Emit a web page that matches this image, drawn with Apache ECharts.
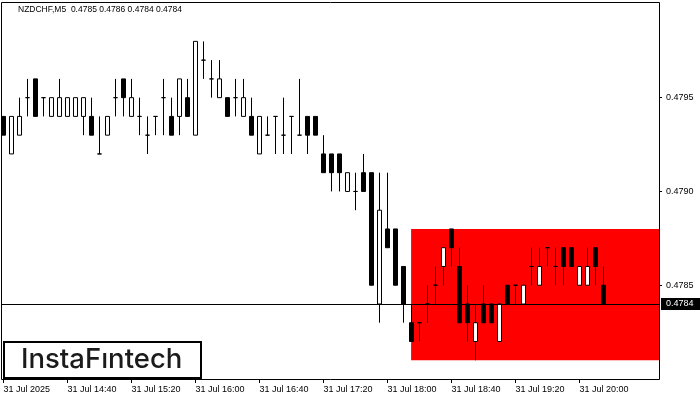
<!DOCTYPE html>
<html><head><meta charset="utf-8">
<script src="https://cdn.jsdelivr.net/npm/echarts@6/dist/echarts.min.js"></script>
<style>html,body{margin:0;padding:0;background:#fff}#c{width:700px;height:400px}</style>
</head><body><div id="c"></div>
<script>
const symbolTitle = 'NZDCHF,M5';
const lastOHLC = ['0.4785', '0.4786', '0.4784', '0.4784'];
const opens = [
  0.4794,0.4792,0.4793,0.4795,0.4796,0.4795,0.4794,0.4794,0.4794,0.4794,
  0.4794,0.4794,0.4792,0.4793,0.4795,0.4796,0.4794,0.4794,0.4793,0.4794,
  0.4795,0.4794,0.4794,0.4795,0.4793,0.4797,0.4796,0.4795,0.4795,0.4795,
  0.4794,0.4794,0.4792,0.4793,0.4794,0.4793,0.4794,0.4793,0.4794,0.4794,
  0.4792,0.4792,0.4792,0.4790,0.4790,0.4791,0.4791,0.4784,0.4788,0.4788,
  0.4786,0.4783,0.4783,0.4784,0.4785,0.4786,0.4788,0.4786,0.4784,0.4782,
  0.4784,0.4784,0.4782,0.4785,0.4785,0.4784,0.4786,0.4785,0.4787,0.4786,
  0.4787,0.4787,0.4785,0.4785,0.4787,0.4785
];
const closes = [
  0.4793,0.4794,0.4794,0.4795,0.4794,0.4795,0.4795,0.4795,0.4795,0.4795,
  0.4795,0.4793,0.4792,0.4794,0.4795,0.4795,0.4795,0.4794,0.4793,0.4794,
  0.4795,0.4793,0.4796,0.4794,0.4798,0.4797,0.4796,0.4796,0.4794,0.4795,
  0.4795,0.4793,0.4794,0.4793,0.4794,0.4793,0.4794,0.4793,0.4793,0.4793,
  0.4791,0.4791,0.4791,0.4791,0.4790,0.4790,0.4785,0.4789,0.4787,0.4785,
  0.4784,0.4782,0.4783,0.4784,0.4785,0.4787,0.4787,0.4783,0.4783,0.4783,
  0.4783,0.4783,0.4784,0.4784,0.4785,0.4785,0.4786,0.4786,0.4787,0.4786,
  0.4786,0.4786,0.4786,0.4786,0.4786,0.4784
];
const lows = [
  0.4793,0.4792,0.4793,0.4794,0.4794,0.4794,0.4794,0.4794,0.4794,0.4794,
  0.4793,0.4793,0.4792,0.4793,0.4794,0.4794,0.4794,0.4793,0.4792,0.4793,
  0.4793,0.4793,0.4793,0.4794,0.4793,0.4796,0.4795,0.4795,0.4794,0.4794,
  0.4794,0.4793,0.4792,0.4793,0.4792,0.4792,0.4792,0.4793,0.4792,0.4793,
  0.4791,0.4790,0.4790,0.4790,0.4789,0.4790,0.4785,0.4783,0.4787,0.4785,
  0.4783,0.4782,0.4782,0.4783,0.4784,0.4785,0.4786,0.4783,0.4782,0.4781,
  0.4783,0.4783,0.4782,0.4784,0.4784,0.4784,0.4785,0.4785,0.4786,0.4785,
  0.4785,0.4786,0.4785,0.4785,0.4785,0.4784
];
const highs = [
  0.4794,0.4794,0.4795,0.4796,0.4796,0.4795,0.4795,0.4796,0.4795,0.4795,
  0.4795,0.4795,0.4794,0.4794,0.4796,0.4796,0.4796,0.4795,0.4794,0.4794,
  0.4796,0.4795,0.4796,0.4796,0.4798,0.4798,0.4797,0.4797,0.4795,0.4796,
  0.4796,0.4795,0.4794,0.4794,0.4794,0.4795,0.4794,0.4796,0.4794,0.4794,
  0.4793,0.4792,0.4792,0.4791,0.4791,0.4792,0.4791,0.4791,0.4791,0.4788,
  0.4786,0.4784,0.4783,0.4785,0.4786,0.4787,0.4788,0.4787,0.4785,0.4784,
  0.4785,0.4784,0.4784,0.4785,0.4785,0.4785,0.4787,0.4787,0.4787,0.4787,
  0.4787,0.4787,0.4786,0.4787,0.4787,0.4786
];
const tickIndex = [0, 8, 16, 24, 32, 40, 48, 56, 64, 72];
const tickLabels = ['31 Jul 2025', '31 Jul 14:40', '31 Jul 15:20', '31 Jul 16:00', '31 Jul 16:40',
  '31 Jul 17:20', '31 Jul 18:00', '31 Jul 18:40', '31 Jul 19:20', '31 Jul 20:00'];
const priceTicks = [0.4785, 0.4790, 0.4795];
const currentPrice = 0.4784;
const zoneStart = 50.95;
const zoneHigh = 0.4788;
const zoneLow = 0.4781;

const xMin = -0.3125, xMax = 81.9375;
const FONT = 'Liberation Sans';

const candleData = opens.map((o, i) => [i, o, closes[i], lows[i], highs[i]]);

const chart = echarts.init(document.getElementById('c'), null, {renderer: 'canvas'});
chart.setOption({
  animation: false,
  backgroundColor: '#fff',
  title: {
    text: symbolTitle + '  ' + lastOHLC.join(' '),
    left: 18, top: 5, padding: 0,
    textStyle: {fontSize: 8.5, fontWeight: 'normal', fontFamily: FONT, color: '#000'}
  },
  grid: {left: 1, top: 2, right: 41, bottom: 21, outerBoundsMode: 'none', containLabel: false},
  xAxis: {
    type: 'value', min: xMin, max: xMax,
    axisLine: {show: false, onZero: false},
    splitLine: {show: false},
    axisTick: {show: true, customValues: tickIndex, length: 4, lineStyle: {color: '#000', width: 1}},
    axisLabel: {
      customValues: tickIndex, align: 'left', margin: 6,
      fontSize: 9, fontFamily: FONT, color: '#000',
      formatter: v => tickLabels[tickIndex.indexOf(Math.round(v))] || ''
    }
  },
  yAxis: {
    type: 'value', position: 'right', min: 0.4780, max: 0.48001, scale: true,
    axisLine: {show: false, onZero: false},
    splitLine: {show: false},
    axisTick: {show: true, customValues: priceTicks, length: 3, lineStyle: {color: '#000', width: 1}},
    axisLabel: {
      customValues: priceTicks, margin: 7,
      fontSize: 9, fontFamily: FONT, color: '#000',
      formatter: v => v.toFixed(4)
    }
  },
  series: [{
    type: 'candlestick',
    data: candleData,
    barWidth: 4,
    silent: true,
    itemStyle: {
      color: '#ffffff', color0: '#000000',
      borderColor: '#000000', borderColor0: '#000000', borderColorDoji: '#000000',
      borderWidth: 1
    },
    markArea: {
      silent: true,
      itemStyle: {color: '#ff0000', opacity: 1},
      data: [[{xAxis: zoneStart, yAxis: zoneHigh}, {xAxis: xMax, yAxis: zoneLow}]]
    }
  }, {
    type: 'scatter',
    data: [],
    silent: true,
    markLine: {
      silent: true,
      precision: 4,
      symbol: ['none', 'none'],
      lineStyle: {color: '#000', width: 1, type: 'solid'},
      emphasis: {disabled: true},
      label: {
        show: true, position: 'end', distance: 2,
        formatter: currentPrice.toFixed(4),
        color: '#fff', backgroundColor: '#000',
        fontSize: 9, fontFamily: FONT,
        padding: [2, 8, 1, 5]
      },
      data: [{yAxis: currentPrice}]
    }
  }],
  graphic: [
    {
      type: 'rect', z: 100, silent: true,
      shape: {x: 1.5, y: 2.5, width: 658, height: 377},
      style: {fill: 'none', stroke: '#000', lineWidth: 1}
    },
    {
      type: 'rect', z: 101, silent: true,
      shape: {x: 4, y: 342, width: 197, height: 36},
      style: {fill: '#fff', stroke: '#000', lineWidth: 2}
    },
    {
      type: 'text', z: 102, silent: true,
      x: 21, y: 359.5,
      style: {
        text: 'InstaF\u0131ntech', fill: '#1b1b1b',
        font: '500 27.5px Inter', textVerticalAlign: 'middle', textAlign: 'left'
      }
    }
  ]
});
</script>
</body></html>
